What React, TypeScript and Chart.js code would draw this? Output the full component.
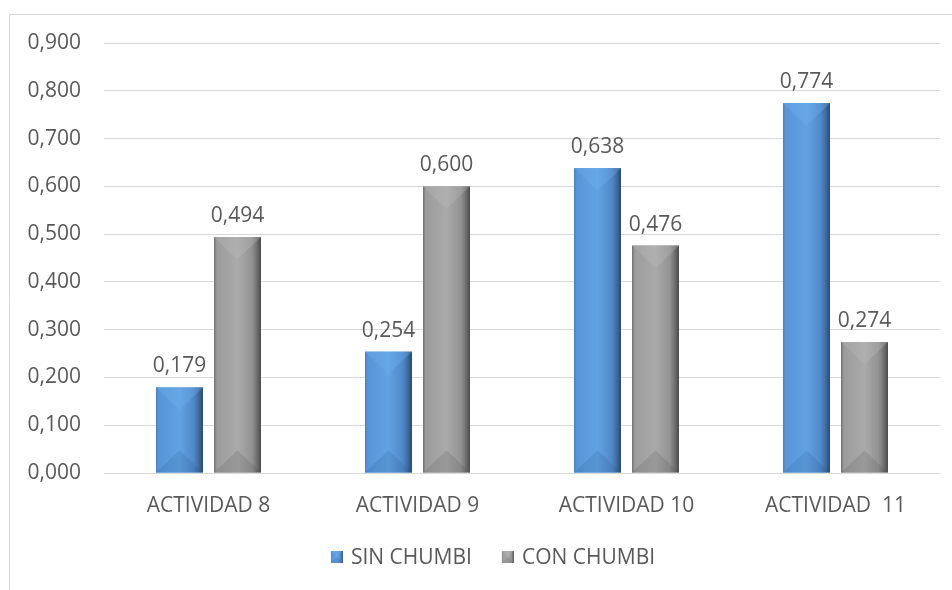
import React, { useEffect, useRef } from "react";
import { Chart, registerables } from "chart.js";

Chart.register(...registerables);

const categories = ["ACTIVIDAD 8", "ACTIVIDAD 9", "ACTIVIDAD 10", "ACTIVIDAD  11"];
const seriesNames = ["SIN CHUMBI", "CON CHUMBI"];
const sinChumbi = [0.179, 0.254, 0.638, 0.774];
const conChumbi = [0.494, 0.6, 0.476, 0.274];
const yMin = 0;
const yMax = 0.9;
const yStep = 0.1;

const FONT = "'Open Sans', 'Noto Sans', sans-serif";
const TEXT = "#595959";
const GRID = "#d9d9d9";

const palettes = [
  {
    base: "#5b9bd5",
    stops: [
      [0, "#4a84c0"],
      [0.06, "#5696d8"],
      [0.5, "#62a2e2"],
      [0.8, "#5089c8"],
      [0.9, "#406fa6"],
      [1, "#2a4a70"],
    ],
    top: "rgba(115,180,240,0.3)",
    bottom: "rgba(30,70,120,0.14)",
  },
  {
    base: "#a5a5a5",
    stops: [
      [0, "#707070"],
      [0.06, "#9c9c9c"],
      [0.5, "#aaaaaa"],
      [0.8, "#939393"],
      [0.9, "#747474"],
      [1, "#4a4a4a"],
    ],
    top: "rgba(190,190,190,0.3)",
    bottom: "rgba(70,70,70,0.16)",
  },
];

const fmt = (v: number) => v.toFixed(3).replace(".", ",");

function drawBevelBox(ctx: CanvasRenderingContext2D, l: number, t: number, w: number, h: number, pal: any) {
  const r = l + w;
  const b = t + h;
  const x = l + w / 2;
  const d = Math.min((w / 2) * 0.95, h / 2);
  const g = ctx.createLinearGradient(l, 0, r, 0);
  pal.stops.forEach(([o, c]: [number, string]) => g.addColorStop(o, c));
  ctx.fillStyle = g;
  ctx.fillRect(l, t, w, h);
  ctx.beginPath();
  ctx.moveTo(l, t);
  ctx.lineTo(r, t);
  ctx.lineTo(x, t + d);
  ctx.closePath();
  ctx.fillStyle = pal.top;
  ctx.fill();
  ctx.beginPath();
  ctx.moveTo(l, b);
  ctx.lineTo(r, b);
  ctx.lineTo(x, b - d);
  ctx.closePath();
  ctx.fillStyle = pal.bottom;
  ctx.fill();
}

const bevelPlugin = {
  id: "bevelBars",
  beforeDraw(chart: any) {
    const ctx = chart.ctx;
    ctx.save();
    ctx.fillStyle = "#ffffff";
    ctx.fillRect(0, 0, chart.width, chart.height);
    ctx.strokeStyle = GRID;
    ctx.lineWidth = 1;
    ctx.beginPath();
    ctx.moveTo(9.5, chart.height);
    ctx.lineTo(9.5, 14.5);
    ctx.lineTo(chart.width, 14.5);
    ctx.stroke();
    ctx.restore();
  },
  afterDatasetsDraw(chart: any) {
    const ctx = chart.ctx;
    ctx.save();
    chart.data.datasets.forEach((ds: any, di: number) => {
      const meta = chart.getDatasetMeta(di);
      const pal = palettes[di];
      meta.data.forEach((el: any, i: number) => {
        const { x, y, base, width } = el.getProps(["x", "y", "base", "width"], true);
        const l = x - width / 2;
        const t = Math.min(y, base);
        const h = Math.abs(base - y);
        drawBevelBox(ctx, l, t, width, h, pal);
        ctx.font = `21px ${FONT}`;
        ctx.fillStyle = TEXT;
        ctx.textAlign = "center";
        ctx.textBaseline = "alphabetic";
        ctx.fillText(fmt(ds.data[i]), x, t - 15);
      });
    });
    ctx.restore();
  },
  afterDraw(chart: any) {
    const ctx = chart.ctx;
    ctx.save();
    ctx.font = `21px ${FONT}`;
    const box = 12;
    const gapText = 8;
    const gapItem = 30;
    const widths = seriesNames.map((n) => ctx.measureText(n).width);
    const total = widths.reduce((a, w) => a + box + gapText + w, 0) + gapItem * (seriesNames.length - 1);
    let cx = 493 - total / 2;
    const cy = 557;
    seriesNames.forEach((n, i) => {
      drawBevelBox(ctx, cx, cy - box / 2, box, box, palettes[i]);
      ctx.fillStyle = TEXT;
      ctx.textAlign = "left";
      ctx.textBaseline = "middle";
      ctx.fillText(n, cx + box + gapText, cy + 1);
      cx += box + gapText + widths[i] + gapItem;
    });
    ctx.restore();
  },
};

export default function App() {
  const ref = useRef<HTMLCanvasElement | null>(null);
  useEffect(() => {
    if (!ref.current) return;
    const chart = new Chart(ref.current, {
      type: "bar",
      data: {
        labels: categories,
        datasets: [
          {
            label: seriesNames[0],
            data: sinChumbi,
            backgroundColor: palettes[0].base,
            categoryPercentage: 0.555,
            barPercentage: 0.81,
          },
          {
            label: seriesNames[1],
            data: conChumbi,
            backgroundColor: palettes[1].base,
            categoryPercentage: 0.555,
            barPercentage: 0.81,
          },
        ],
      },
      options: {
        animation: false,
        responsive: false,
        maintainAspectRatio: false,
        layout: { padding: { left: 0, right: 12, top: 43, bottom: 0 } },
        plugins: {
          legend: { display: false },
          tooltip: { enabled: false },
          title: { display: false },
        },
        scales: {
          x: {
            grid: { display: false, drawTicks: false },
            border: { display: false },
            ticks: {
              color: TEXT,
              font: { family: FONT, size: 21 },
              padding: 20,
              maxRotation: 0,
              autoSkip: false,
            },
            afterFit: (s: any) => {
              s.height = 590 - 473;
            },
          },
          y: {
            min: yMin,
            max: yMax,
            grid: { color: GRID, lineWidth: 1, drawTicks: false },
            border: { display: false },
            ticks: {
              stepSize: yStep,
              color: TEXT,
              font: { family: FONT, size: 21 },
              padding: 23,
              callback: (v: any) => fmt(Number(v)),
            },
            afterFit: (s: any) => {
              s.width = 104;
            },
          },
        },
      },
      plugins: [bevelPlugin],
    });
    return () => chart.destroy();
  }, []);
  return (
    <div style={{ position: "absolute", left: 0, top: 0, width: 952, height: 590, background: "#fff" }}>
      <canvas ref={ref} width={952} height={590} style={{ display: "block" }} />
    </div>
  );
}
